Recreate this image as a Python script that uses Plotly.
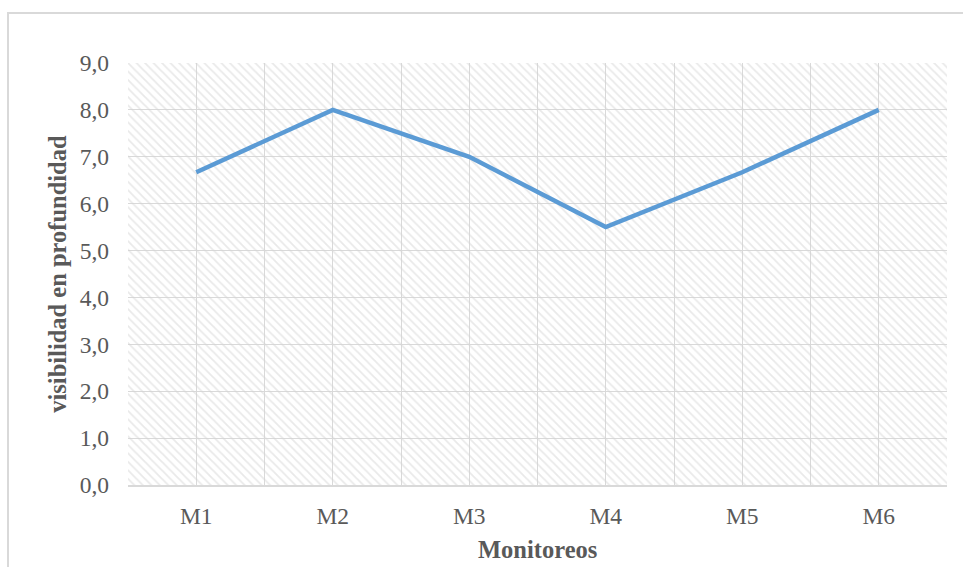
import plotly.graph_objects as go

# Monitoring campaigns and measured depth visibility
monitoreos = ["M1", "M2", "M3", "M4", "M5", "M6"]
visibilidad = [6.67, 8.0, 7.0, 5.5, 6.67, 8.0]
y_ticks = [0, 1, 2, 3, 4, 5, 6, 7, 8, 9]
y_tick_labels = ["0,0", "1,0", "2,0", "3,0", "4,0", "5,0", "6,0", "7,0", "8,0", "9,0"]

x_pos = list(range(len(monitoreos)))
x_range = [-0.5, len(monitoreos) - 0.5]
y_range = [0, 9]

FONT = "Liberation Serif, Times New Roman, serif"
TEXT = "#595959"
GRID = "#d9d9d9"

fig = go.Figure()

# hatched plot-area background
fig.add_trace(go.Scatter(
    x=[x_range[0], x_range[1], x_range[1], x_range[0], x_range[0]],
    y=[y_range[0], y_range[0], y_range[1], y_range[1], y_range[0]],
    mode="none", fill="toself", fillcolor="rgba(0,0,0,0)",
    fillpattern=dict(shape="\\", size=6, solidity=0.3,
                     fgcolor="#d4d4d4", bgcolor="rgba(0,0,0,0)"),
    hoverinfo="skip", showlegend=False,
))

fig.add_trace(go.Scatter(
    x=x_pos, y=visibilidad, mode="lines",
    line=dict(color="#5b9bd5", width=4.5),
    showlegend=False,
))

fig.update_layout(
    width=963, height=567,
    margin=dict(l=128, r=16, t=63, b=82),
    paper_bgcolor="white", plot_bgcolor="white",
    font=dict(family=FONT, color=TEXT, size=23),
    xaxis=dict(
        range=x_range, tickmode="array", tickvals=x_pos, ticktext=monitoreos,
        showgrid=True, gridcolor=GRID, gridwidth=1.3,
        minor=dict(tick0=-0.5, dtick=1, showgrid=True, gridcolor=GRID, gridwidth=1.3),
        showline=True, linecolor=GRID, linewidth=2,
        zeroline=False, ticks="", ticklabelstandoff=9,
        tickfont=dict(family=FONT, size=23.5, color=TEXT),
        fixedrange=True,
    ),
    yaxis=dict(
        range=y_range, tickmode="array", tickvals=y_ticks, ticktext=y_tick_labels,
        showgrid=True, gridcolor=GRID, gridwidth=1.3,
        zeroline=False, showline=False, ticks="", ticklabelstandoff=18,
        tickfont=dict(family=FONT, size=23.5, color=TEXT),
        fixedrange=True,
    ),
    shapes=[
        # chart frame
        dict(type="rect", xref="paper", yref="paper",
             x0=-0.1465, x1=1.2, y0=-0.6, y1=1.1185,
             line=dict(color="#d9d9d9", width=2), fillcolor="rgba(0,0,0,0)",
             layer="below"),
    ],
    annotations=[
        dict(text="<b>Monitoreos</b>", xref="paper", yref="paper",
             x=0.5, y=-0.152, xanchor="center", yanchor="middle",
             showarrow=False, font=dict(family=FONT, size=24.5, color=TEXT)),
        dict(text="<b>visibilidad en profundidad</b>", xref="paper", yref="paper",
             x=-0.087, y=0.5, xanchor="center", yanchor="middle", textangle=-90,
             showarrow=False, font=dict(family=FONT, size=24.5, color=TEXT)),
    ],
)

fig.write_html("out.html")
